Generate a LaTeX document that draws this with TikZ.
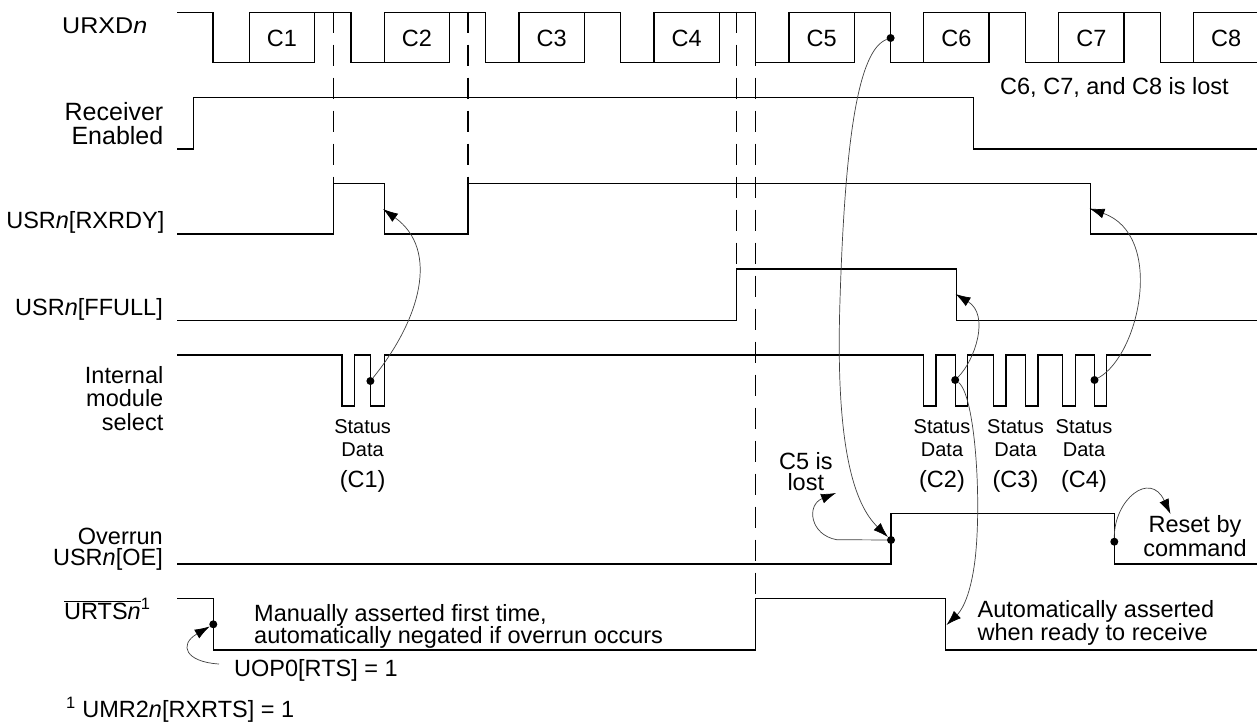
\documentclass[tikz,border=0pt]{standalone}
\usepackage{fontspec}
\setmainfont{Liberation Sans}
\newfontfamily\midsans{Liberation Sans}[FakeStretch=1.1]
\usetikzlibrary{arrows.meta}
\tikzset{
  sig/.style={line width=1.3pt},
  dashln/.style={line width=1.2pt, dash pattern=on 21pt off 12pt},
  crv/.style={line width=0.7pt, draw=black!75},
  arr/.style={-{Latex[length=15pt,width=10pt,black]}},
  dotn/.style={circle, fill=black, inner sep=0pt, minimum size=8pt},
  lbl/.style={font=\fontsize{23.5}{24}\selectfont, inner sep=0pt},
  wlbl/.style={font=\fontsize{25}{26}\selectfont, inner sep=0pt},
  mlbl/.style={font=\midsans\fontsize{22.8}{24}\selectfont, inner sep=0pt},
  sml/.style={font=\fontsize{20}{21}\selectfont, inner sep=0pt},
}
\begin{document}
\begin{tikzpicture}[x=1pt,y=-1pt]
\useasboundingbox (0,0) rectangle (1257,723);
% ---------- URXDn ----------
\draw[sig] (177,12.7) -- (213,12.7) -- (213,62.3) -- (249.3,62.3);
\foreach \k in {1,...,7}{
  \pgfmathsetmacro\b{249.3+(\k-1)*134.9}
  \draw[sig] (\b,12.7) rectangle ({\b+65.3},62.3);
  \draw[sig] ({\b+65.3},12.7) -- ({\b+101.6},12.7) -- ({\b+101.6},62.3) -- ({\b+134.9},62.3);
  \node[lbl, anchor=base] (c\k) at ({\b+32.65},46.3) {C\k};
}
\draw[sig] (1257,12.7) -- (1193.6,12.7) -- (1193.6,62.3) -- (1257,62.3);
\node[lbl, anchor=base] (c8) at (1226.2,46.3) {C8};
% ---------- Receiver enabled ----------
\draw[sig] (177,149) -- (193.6,149) -- (193.6,97.3) -- (973.4,97.3) -- (973.4,149) -- (1257,149);
% ---------- RXRDY ----------
\draw[sig] (177,234) -- (333.5,234) -- (333.5,183.3) -- (384.5,183.3) -- (384.5,234) -- (468,234) -- (468,183.3) -- (1090.4,183.3) -- (1090.4,234) -- (1257,234);
% ---------- FFULL ----------
\draw[sig] (177,320.3) -- (736.6,320.3) -- (736.6,269) -- (956.4,269) -- (956.4,320.3) -- (1257,320.3);
% ---------- Internal module select ----------
\draw[sig] (177,355) -- (341.9,355) -- (341.9,406) -- (354.8,406) -- (354.8,355) -- (370.4,355) -- (370.4,406) -- (384.5,406) -- (384.5,355)
  -- (923.5,355) -- (923.5,406) -- (936,406) -- (936,355) -- (955.2,355) -- (955.2,406) -- (967.3,406) -- (967.3,355)
  -- (993.8,355) -- (993.8,406) -- (1006,406) -- (1006,355) -- (1025.4,355) -- (1025.4,406) -- (1038,406) -- (1038,355)
  -- (1062.8,355) -- (1062.8,406) -- (1075.8,406) -- (1075.8,355) -- (1094.5,355) -- (1094.5,406) -- (1106.7,406) -- (1106.7,355) -- (1150.5,355);
% ---------- Overrun ----------
\draw[sig] (177,564) -- (891,564) -- (891,513.3) -- (1114.3,513.3) -- (1114.3,564) -- (1257,564);
% ---------- URTS ----------
\draw[sig] (177,598.7) -- (213.3,598.7) -- (213.3,650) -- (755.3,650) -- (755.3,598.7) -- (945.4,598.7) -- (945.4,650) -- (1257,650);
% ---------- dashed guides ----------
\draw[dashln] (333.5,11.7) -- (333.5,183.3);
\draw[dashln] (468,11.7) -- (468,183.3);
\draw[dashln] (736.6,11.7) -- (736.6,269);
\draw[dashln] (755.3,11.7) -- (755.3,598.7);
% ---------- dots ----------
\node[dotn] (dD) at (890.6,38) {};
\node[dotn] (dA) at (370.4,381) {};
\node[dotn] (dB) at (955.2,380) {};
\node[dotn] (dC) at (1094.5,380) {};
\node[dotn] (dOE) at (891,540) {};
\node[dotn] (dR) at (1114.3,541.7) {};
\node[dotn] (dU) at (213.3,624.3) {};
\coordinate (tA) at (383,209);
\coordinate (tB) at (955.5,294);
\coordinate (tC) at (1089.5,208.5);
\coordinate (tE) at (836,493);
\coordinate (tF) at (1170.5,514);
\coordinate (tG) at (946.5,625);
\coordinate (sH) at (219,664);
\coordinate (mE) at (836.7,539.7);
% ---------- curved arrows ----------
\draw[crv,arr] (dA) .. controls (420,320) and (440,250) .. (tA);
\draw[crv,arr] (dB) .. controls (975,360) and (990,315) .. (tB);
\draw[crv,arr] (dC) .. controls (1140,355) and (1165,235) .. (tC);
\draw[crv,arr] (dD) .. controls (858,50) and (845,140) .. (840,300) .. controls (835,450) and (855,505) .. (dOE);
\draw[crv,arr] (dOE) -- (mE) .. controls (810,535) and (806,505) .. (tE);
\draw[crv,arr] (dR) .. controls (1114,500) and (1150,470) .. (tF);
\draw[crv,arr] (dB) .. controls (975,395) and (982,500) .. (975,560) .. controls (970,600) and (960,612) .. (tG);
\draw[crv,arr] (sH) .. controls (186,662) and (178,645) .. (dU);
% ---------- labels ----------
\node[mlbl, anchor=base west] (lurxd) at (62,33.5) {URXD\textit{n}};
\node[wlbl, anchor=base east] (lrec1) at (163.5,120) {Receiver};
\node[wlbl, anchor=base east] (lrec2) at (163.5,144) {Enabled};
\node[lbl, anchor=base east] (lrx) at (164.5,228) {USR\textit{n}[RXRDY]};
\node[lbl, anchor=base east] (lff) at (163,315) {USR\textit{n}[FFULL]};
\node[lbl, anchor=base east] (lims1) at (163.5,383.3) {Internal};
\node[lbl, anchor=base east] (lims2) at (163.5,406.7) {module};
\node[lbl, anchor=base east] (lims3) at (163.5,430) {select};
\node[lbl, anchor=base east] (loe1) at (163,544) {Overrun};
\node[lbl, anchor=base east] (loe2) at (163,565.5) {USR\textit{n}[OE]};
\node[lbl, anchor=base west] (lurts) at (64,619) {$\overline{\mbox{URTS\textit{n}}}$\textsuperscript{1}};
\node[lbl, anchor=base west] (lost) at (1000,94.3) {C6, C7, and C8 is lost};
\node[lbl, anchor=base west] (man1) at (254,621) {Manually asserted first time,};
\node[lbl, anchor=base west] (man2) at (254,643) {automatically negated if overrun occurs};
\node[lbl, anchor=base west] (uop) at (234,676.7) {UOP0[RTS] = 1};
\node[lbl, anchor=base west] (foot) at (66,717.5) {\textsuperscript{1} UMR2\textit{n}[RXRTS] = 1};
\node[lbl, anchor=base] (c5a) at (805.8,469) {C5 is};
\node[lbl, anchor=base] (c5b) at (805.8,490) {lost};
\node[lbl, anchor=base] (rs1) at (1195,532) {Reset by};
\node[lbl, anchor=base] (rs2) at (1195,556) {command};
\node[lbl, anchor=base west] (au1) at (977.5,617.3) {Automatically asserted};
\node[lbl, anchor=base west] (au2) at (977.5,640.7) {when ready to receive};
\foreach \x/\c/\n in {362.6/C1/a, 942/C2/b, 1015.5/C3/c, 1084/C4/d}{
  \node[sml, anchor=base] (st\n) at (\x,433.3) {Status};
  \node[sml, anchor=base] (da\n) at (\x,456.7) {Data};
  \node[lbl, anchor=base] (cc\n) at (\x,487.7) {(\c)};
}
\end{tikzpicture}
\end{document}
